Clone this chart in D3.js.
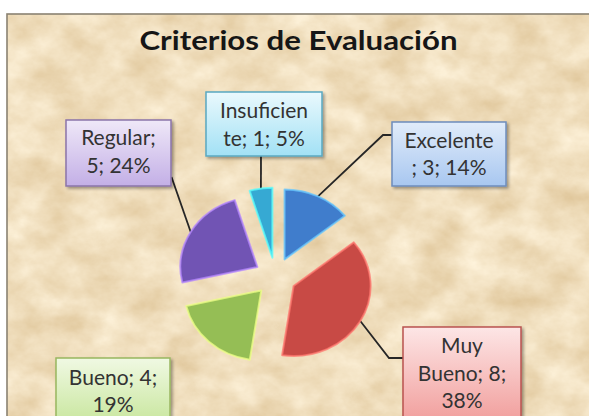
<!DOCTYPE html>
<html>
<head>
<meta charset="utf-8">
<script src="https://cdn.jsdelivr.net/npm/d3@7"></script>
<style>
html,body{margin:0;padding:0;background:#fff;}
svg{display:block;}
</style>
</head>
<body>
<svg id="chart" width="589" height="416"></svg>
<script>
// ---- data ----
const title = "Criterios de Evaluación";
const categories = ["Excelente", "Muy Bueno", "Bueno", "Regular", "Insuficiente"];
const values = [3, 8, 4, 5, 1];
// how Excel wrapped each data label (text only)
const labelLines = [
  ["Excelente", "; 3; 14%"],
  ["Muy", "Bueno; 8;", "38%"],
  ["Bueno; 4;", "19%"],
  ["Regular;", "5; 24%"],
  ["Insuficien", "te; 1; 5%"]
];

// ---- styles / layout ----
const sliceColors = ["#407dcc", "#c84a45", "#95be55", "#7154b4", "#36a9d3"];
const boxStyles = [
  {top:"#e1ecfa", bottom:"#a8c7f0", stroke:"#6e8cbc"},
  {top:"#fde6e6", bottom:"#f19e9c", stroke:"#b9534f"},
  {top:"#f0f9e3", bottom:"#c8e69d", stroke:"#98b65f"},
  {top:"#efe8f8", bottom:"#c3afe6", stroke:"#8a74a9"},
  {top:"#eaf9fd", bottom:"#a2e1f5", stroke:"#5aa8c1"}
];
const boxLayout = [
  {x:392, y:122, w:114, h:64, cx:449, base:147.5, lead:[[383,135],[392,135]]},
  {x:403, y:327, w:118, h:95, cx:462, base:353, lead:[[389,358],[403,358]]},
  {x:56,  y:358, w:114, h:66, cx:113, base:384.5, lead:null},
  {x:66,  y:120, w:105, h:66, cx:118.5, base:145, lead:[[171.5,177]]},
  {x:206, y:92,  w:116, h:64, cx:264, base:118, lead:[[261,156]]}
];
const lineGap = 27.5;
const W = 589, H = 416;
const cx = 275.5, cy = 276.5, R = 70, sx = 1.1, explode = 19;

const svg = d3.select("#chart");
const defs = svg.append("defs");

// parchment texture
const tex = defs.append("filter").attr("id","parch")
  .attr("x",0).attr("y",0).attr("width","100%").attr("height","100%")
  .attr("color-interpolation-filters","sRGB");
tex.append("feTurbulence").attr("type","fractalNoise").attr("baseFrequency","0.024 0.032")
  .attr("numOctaves",5).attr("seed",7).attr("result","n");
tex.append("feColorMatrix").attr("in","n").attr("type","matrix")
  .attr("values","0.15 0 0 0 0.865  0.22 0 0 0 0.76  0.32 0 0 0 0.58  0 0 0 0 1");

const shadow = defs.append("filter").attr("id","shadow")
  .attr("x","-20%").attr("y","-20%").attr("width","140%").attr("height","140%");
shadow.append("feDropShadow").attr("dx",2).attr("dy",2).attr("stdDeviation",1.6)
  .attr("flood-color","#000").attr("flood-opacity",0.35);

boxStyles.forEach((s,i)=>{
  const g = defs.append("linearGradient").attr("id","bg"+i)
    .attr("x1",0).attr("y1",0).attr("x2",0).attr("y2",1);
  g.append("stop").attr("offset","0%").attr("stop-color",s.top);
  g.append("stop").attr("offset","100%").attr("stop-color",s.bottom);
});

// frame
svg.append("rect").attr("x",7).attr("y",14).attr("width",W).attr("height",H)
  .attr("filter","url(#parch)");
svg.append("rect").attr("x",7).attr("y",14).attr("width",W).attr("height",H)
  .attr("fill","none").attr("stroke","#8a8272").attr("stroke-width",1.6);

// title
svg.append("text").attr("x",298.5).attr("y",50)
  .attr("text-anchor","middle")
  .attr("font-family","Lato, 'Open Sans', sans-serif")
  .attr("font-weight","bold").attr("font-size",26)
  .attr("textLength",318).attr("lengthAdjust","spacingAndGlyphs")
  .attr("fill","#161616").text(title);

// pie
const total = d3.sum(values);
const pct = d3.format(".0%");
const pie = d3.pie().sort(null).value(d=>d)(values);
const arc = d3.arc().innerRadius(0).outerRadius(R);

const offset = d => {
  const m = (d.startAngle + d.endAngle)/2;
  return [cx + Math.sin(m)*explode*sx, cy - Math.cos(m)*explode];
};
const anchor = d => {
  const m = (d.startAngle + d.endAngle)/2;
  const o = offset(d);
  return [o[0] + Math.sin(m)*R*sx, o[1] - Math.cos(m)*R];
};

// leader lines
pie.forEach((d,i)=>{
  const L = boxLayout[i];
  if(!L.lead) return;
  const pts = [anchor(d)].concat(L.lead);
  svg.append("path").attr("d", d3.line()(pts))
    .attr("fill","none").attr("stroke","#262626").attr("stroke-width",1.8);
});

svg.append("g").selectAll("path").data(pie).join("path")
  .attr("transform", d => { const o = offset(d); return `translate(${o[0]},${o[1]}) scale(${sx},1)`; })
  .attr("d", arc)
  .attr("fill", (d,i)=>sliceColors[i])
  .attr("stroke", (d,i)=>d3.color(sliceColors[i]).brighter(1.3).formatHex())
  .attr("stroke-opacity",0.75)
  .attr("stroke-width",2)
  .attr("vector-effect","non-scaling-stroke")
  .attr("stroke-linejoin","round");

// labels
const lg = svg.append("g");
pie.forEach((d,i)=>{
  const L = boxLayout[i], s = boxStyles[i];
  lg.append("rect").attr("x",L.x).attr("y",L.y).attr("width",L.w).attr("height",L.h)
    .attr("fill",`url(#bg${i})`).attr("stroke",s.stroke).attr("stroke-width",1.5)
    .attr("filter","url(#shadow)");
  const t = lg.append("text").attr("text-anchor","middle")
    .attr("font-family","Lato, 'Open Sans', sans-serif").attr("font-size",21)
    .attr("fill","#333333");
  t.attr("data-label", `${categories[i]}; ${values[i]}; ${pct(values[i]/total)}`);
  labelLines[i].forEach((ln,j)=>{
    t.append("tspan").attr("x",L.cx).attr("y",L.base + j*lineGap).text(ln);
  });
});
</script>
</body>
</html>
